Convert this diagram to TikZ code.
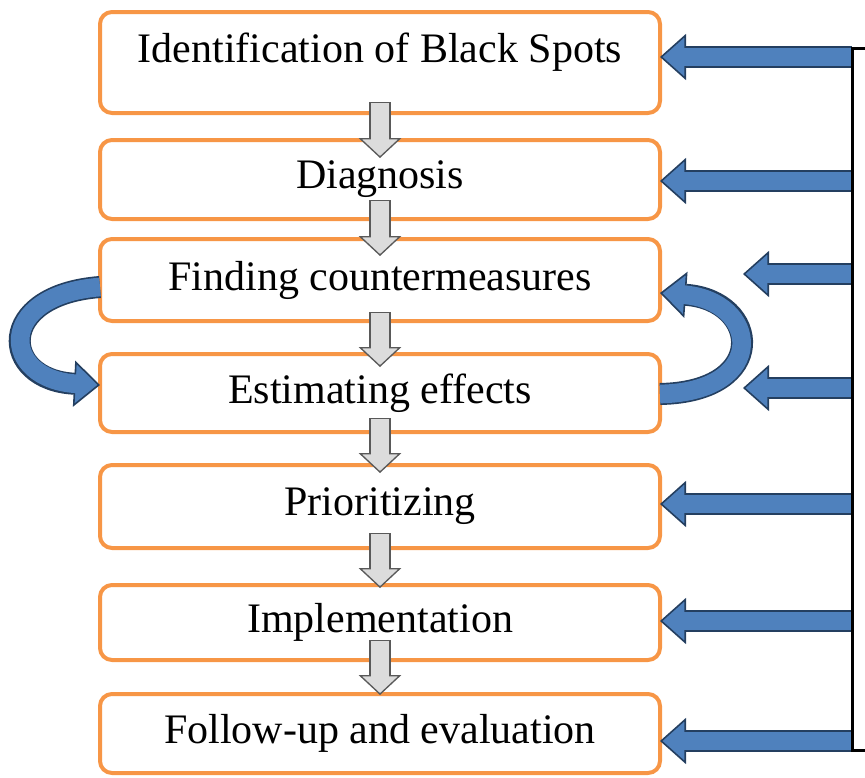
\documentclass[tikz,border=0pt]{standalone}
\usepackage{fontspec}
\setmainfont{Liberation Serif}
\usetikzlibrary{arrows.meta, positioning}
\definecolor{myorange1}{RGB}{247, 150, 70}
\definecolor{mybluefill1}{RGB}{79, 129, 189}
\definecolor{mybluedark1}{RGB}{36, 63, 96}
\definecolor{mygrayfill1}{RGB}{220, 220, 220}
\definecolor{mygraydark1}{RGB}{89, 89, 89}

\tikzset{
  stepbox/.style={draw=myorange1, line width=3pt, rounded corners=9pt, fill=white, minimum width=420pt, text centered, outer sep=0, font=\fontsize{31.5}{36}\selectfont},
  bluearrow/.style={draw=mybluedark1, line width=16.5pt, -{Triangle[length=19.5pt, width=34.5pt, fill=mybluefill1, line width=1.2pt]}, postaction={draw=mybluefill1, line width=14pt, -, shorten >=17pt}},
  grayarrow/.style={draw=mygraydark1, line width=16pt, -{Triangle[length=15pt, width=32pt, fill=mygrayfill1, line width=1pt]}, postaction={draw=mygrayfill1, line width=14pt, -, shorten >=13pt, shorten <=1pt}},
  busline/.style={draw=black, line width=2.25pt}
}

\begin{document}
\begin{tikzpicture}[x=0.75pt, y=-0.75pt]
\useasboundingbox (0,0) rectangle (865,778);

% --- Steps ---
\node at (380,62.5) [stepbox, minimum height=75.75pt, text depth=22pt] (id) {Identification of Black Spots};
\node at (380,179.5) [stepbox, minimum height=59.25pt] (diag) {Diagnosis};
\node at (380,280) [stepbox, minimum height=61.5pt] (find) {Finding countermeasures};
\node at (380,393) [stepbox, minimum height=58.5pt] (est) {Estimating effects};
\node at (380,506.5) [stepbox, minimum height=62.25pt] (prio) {Prioritizing};
\node at (380,622.5) [stepbox, minimum height=56.25pt] (impl) {Implementation};
\node at (380,733.5) [stepbox, minimum height=59.25pt] (follow) {Follow-up and evaluation};

% --- Down arrows ---
\foreach \a/\b/\up/\down in {id/diag/8.25/-13.5, diag/find/14.25/-12.75, find/est/6.75/-9.75, est/prio/10.5/-6, prio/impl/11.25/-2.25, impl/follow/15/-0.75}
  \draw[grayarrow] ([yshift=\up pt]\a.south) -- ([yshift=\down pt]\b.north);

% --- Loop between finding and estimating ---
\draw[bluearrow] ([yshift=-5.25pt]find.west) .. controls (-5,295) and (0,380) .. ([yshift=6pt]est.west);
\draw[bluearrow] ([yshift=-0.75pt]est.east) .. controls (770,392) and (760,300) .. ([yshift=-9.75pt]find.east);

% --- Feedback bus ---
\coordinate (bus-top) at (852,48);
\coordinate (bus-bot) at (852,750);
\coordinate (bus-topend) at (866,48);
\coordinate (bus-botend) at (866,750);
\foreach \nm/\yy in {id/57, diag/181, prio/504, impl/621, follow/741} {
  \coordinate (bus-\nm) at (852,\yy);
  \draw[bluearrow] (bus-\nm) -- (bus-\nm -| \nm.east);
}
\coordinate (bus-find) at (852,274);
\coordinate (free-find) at (743,274);
\coordinate (bus-est) at (852,388);
\coordinate (free-est) at (743,388);
\draw[bluearrow] (bus-find) -- (free-find);
\draw[bluearrow] (bus-est) -- (free-est);
\draw[busline] (bus-topend) -- (bus-top) -- (bus-bot) -- (bus-botend);
\end{tikzpicture}
\end{document}
